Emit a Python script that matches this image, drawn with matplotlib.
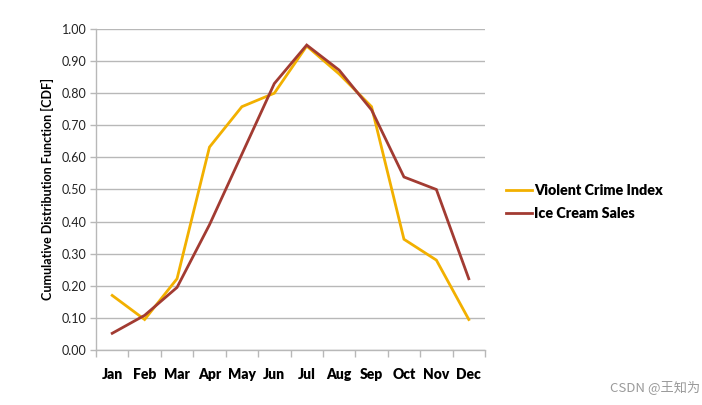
import matplotlib
matplotlib.use("Agg")
import matplotlib.pyplot as plt
from matplotlib.lines import Line2D
import numpy as np

months = ["Jan", "Feb", "Mar", "Apr", "May", "Jun", "Jul", "Aug", "Sep", "Oct", "Nov", "Dec"]
violent_crime = [0.17, 0.095, 0.222, 0.632, 0.758, 0.80, 0.947, 0.86, 0.758, 0.345, 0.28, 0.095]
ice_cream = [0.052, 0.108, 0.195, 0.39, 0.61, 0.83, 0.95, 0.872, 0.748, 0.539, 0.50, 0.222]
yticks = [0.0, 0.1, 0.2, 0.3, 0.4, 0.5, 0.6, 0.7, 0.8, 0.9, 1.0]

c_yellow = "#F2B000"
c_red = "#A23B32"
grid_c = "#B8B8B8"

fig = plt.figure(figsize=(7.02, 4.05), dpi=100)
ax = fig.add_axes([96/702, 1-350/405, (485-96)/702, (350-29)/405])

x = np.arange(len(months))
ax.plot(x, violent_crime, color=c_yellow, lw=2.0, solid_joinstyle="miter")
ax.plot(x, ice_cream, color=c_red, lw=2.0, solid_joinstyle="miter")

ax.set_xlim(-0.5, len(months) - 0.5)
ax.set_ylim(0, 1.0)
ax.set_yticks(yticks)
ax.set_yticklabels([f"{v:.2f}" for v in yticks], fontfamily="Lato", fontsize=9, color="#222222")
ax.yaxis.grid(True, color=grid_c, lw=1.0)
ax.set_axisbelow(True)

ax.set_xticks(x)
ax.set_xticklabels(months, fontfamily="Lato", fontweight="heavy", fontsize=10)
ax.set_xticks(np.arange(-0.5, len(months), 1.0), minor=True)
ax.tick_params(axis="x", which="major", length=0, pad=13)
ax.tick_params(axis="x", which="minor", length=5, color=grid_c, width=1)
ax.tick_params(axis="y", length=4, color=grid_c, width=1, pad=3)

for s in ["top", "right"]:
    ax.spines[s].set_visible(False)
for s in ["left", "bottom"]:
    ax.spines[s].set_color(grid_c)
    ax.spines[s].set_linewidth(1.0)

ax.set_ylabel("Cumulative Distribution Function [CDF]", fontfamily="Lato", fontweight="bold", fontsize=9, labelpad=5)

handles = [Line2D([0], [0], color=c_yellow, lw=2), Line2D([0], [0], color=c_red, lw=2)]
fig.legend(handles, ["Violent Crime Index", "Ice Cream Sales"], loc="center left",
           bbox_to_anchor=(493/702, 1-202/405), frameon=False,
           prop={"family": "Lato", "weight": "heavy", "size": 10.3},
           handlelength=1.8, handletextpad=0.2, labelspacing=0.7)

fig.text(0.997, 1-387/405, "CSDN @王知为", ha="right", va="center", fontsize=9.5,
         color="#9a9a9a", family=["Noto Sans CJK SC", "DejaVu Sans"])

fig.savefig("out.png", dpi=100)
